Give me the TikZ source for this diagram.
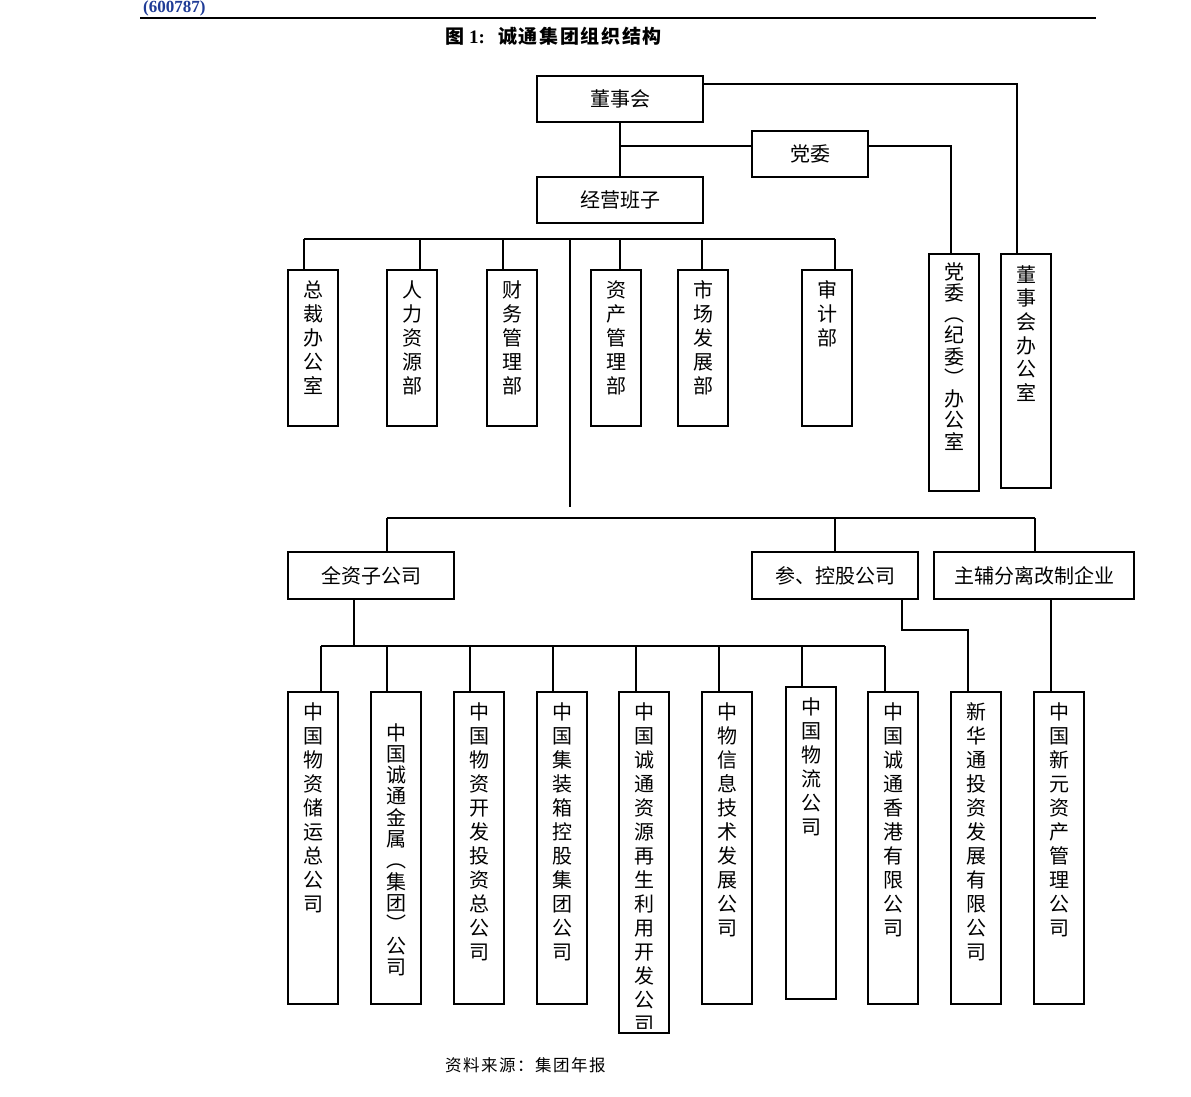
\documentclass[tikz,border=0pt]{standalone}
\usepackage{fontspec}
\setmainfont{Liberation Serif}
\newfontfamily\cjk{Noto Sans CJK SC}
\newfontfamily\cjkls[LetterSpace=9]{Noto Sans CJK SC}
\definecolor{hdrblue}{HTML}{1F3C96}
\newcommand\vtxt[5]{%
  \foreach \c [count=\i] in {#5} \node[ch] (#1-\i) at (#2,{#3+#4*(\i-1)}) {\c};}
\begin{document}
\begin{tikzpicture}[x=1pt,y=-1pt,
  box/.style={draw, line width=1.3pt, inner sep=0pt, font=\cjk\fontsize{20}{24}\selectfont},
  conn/.style={line width=1.3pt},
  ch/.style={inner sep=0pt, text height=16pt, text depth=2pt, font=\cjk\fontsize{20}{24}\selectfont}]
\useasboundingbox (0,0) rectangle (1191,1096);

% header
\node[anchor=base west, text=hdrblue, inner sep=0pt, font=\bfseries\fontsize{17}{18}\selectfont] (code) at (143,12.5) {(600787)};
\draw[line width=1.5pt] (140,18) -- (1096,18);
\node[anchor=west, inner sep=0pt, font=\fontsize{19}{20}\selectfont] (title) at (445,36)
  {{\cjk\bfseries 图}\hspace{5pt}{\bfseries 1:}\hspace{13pt}{\cjkls\bfseries 诚通集团组织结构}};

% top boxes
\node[box, minimum width=166pt, minimum height=46pt] (dsh) at (620,99) {董事会};
\node[box, minimum width=116pt, minimum height=46pt] (dw) at (810,154) {党委};
\node[box, minimum width=166pt, minimum height=46pt] (jy) at (620,200) {经营班子};

% department boxes
\foreach \n/\cx in {d1/313,d2/412,d3/512,d4/616,d5/703,d6/827}
  \node[box, minimum width=50pt, minimum height=156pt] (\n) at (\cx,348) {};
\node[box, minimum width=50pt, minimum height=237pt] (d7) at (954,372.5) {};
\node[box, minimum width=50pt, minimum height=234pt] (d8) at (1026,371) {};

\vtxt{t1}{313}{290}{24}{总,裁,办,公,室}
\vtxt{t2}{412}{290}{24}{人,力,资,源,部}
\vtxt{t3}{512}{290}{24}{财,务,管,理,部}
\vtxt{t4}{616}{290}{24}{资,产,管,理,部}
\vtxt{t5}{703}{290}{24}{市,场,发,展,部}
\vtxt{t6}{827}{290}{24}{审,计,部}
\vtxt{t7}{954}{272}{21.25}{党,委,︵,纪,委,︶,办,公,室}
\vtxt{t8}{1026}{275}{23.7}{董,事,会,办,公,室}

% second level boxes
\node[box, minimum width=166pt, minimum height=47pt] (qz) at (371,575.5) {全资子公司};
\node[box, minimum width=166pt, minimum height=47pt] (ck) at (835,575.5) {参、控股公司};
\node[box, minimum width=200pt, minimum height=47pt] (zf) at (1034,575.5) {主辅分离改制企业};

% bottom boxes
\foreach \n/\cx in {b1/313,b2/396,b3/479,b4/562,b6/727,b8/893,b9/976,b10/1059}
  \node[box, minimum width=50pt, minimum height=312pt] (\n) at (\cx,848) {};
\node[box, minimum width=50pt, minimum height=341pt] (b5) at (644,862.5) {};
\node[box, minimum width=50pt, minimum height=312pt] (b7) at (811,843) {};

\vtxt{s1}{313}{712}{24}{中,国,物,资,储,运,总,公,司}
\vtxt{s2}{396}{733}{21.3}{中,国,诚,通,金,属,︵,集,团,︶,公,司}
\vtxt{s3}{479}{712}{24}{中,国,物,资,开,发,投,资,总,公,司}
\vtxt{s4}{562}{712}{24}{中,国,集,装,箱,控,股,集,团,公,司}
\begin{scope}
  \clip (619,692) rectangle (669,1028);
  \vtxt{s5}{644}{712}{24}{中,国,诚,通,资,源,再,生,利,用,开,发,公,司}
\end{scope}
\vtxt{s6}{727}{712}{24}{中,物,信,息,技,术,发,展,公,司}
\vtxt{s7}{811}{707}{24}{中,国,物,流,公,司}
\vtxt{s8}{893}{712}{24}{中,国,诚,通,香,港,有,限,公,司}
\vtxt{s9}{976}{712}{24}{新,华,通,投,资,发,展,有,限,公,司}
\vtxt{s10}{1059}{712}{24}{中,国,新,元,资,产,管,理,公,司}

% connectors top
\draw[conn] (dsh.south) -- (jy.north);
\coordinate (j1) at (620,146);
\draw[conn] (j1) -- (j1 -| dw.west);
\coordinate (j2) at (951,146);
\draw[conn] (dw.east |- j2) -- (j2) -- (j2 |- d7.north);
\coordinate (k2) at (1017,84);
\draw[conn] (dsh.east |- k2) -- (k2) -- (k2 |- d8.north);

% department bar
\coordinate (p1) at (304,239);
\coordinate (p2) at (420,239);
\coordinate (p3) at (503,239);
\coordinate (p4) at (620,239);
\coordinate (p5) at (702,239);
\coordinate (p6) at (835,239);
\coordinate (pm) at (570,239);
\coordinate (pe) at (570,507);
\draw[conn] (p1) -- (p6);
\foreach \i in {1,...,6} \draw[conn] (p\i) -- (p\i |- d\i.north);
\draw[conn] (pm) -- (pe);

% second level bar
\coordinate (q1) at (387,518);
\coordinate (q2) at (835,518);
\coordinate (q3) at (1035,518);
\draw[conn] (q1) -- (q3);
\draw[conn] (q1) -- (q1 |- qz.north);
\draw[conn] (q2) -- (q2 |- ck.north);
\draw[conn] (q3) -- (q3 |- zf.north);

% ck -> b9
\coordinate (r1) at (902,630);
\coordinate (r2) at (968,630);
\draw[conn] (r1 |- ck.south) -- (r1) -- (r2) -- (r2 |- b9.north);
% zf -> b10
\coordinate (r3) at (1051,646);
\draw[conn] (r3 |- zf.south) -- (r3 |- b10.north);

% bottom bar
\coordinate (u0) at (354,646);
\draw[conn] (u0 |- qz.south) -- (u0);
\foreach \n/\x in {b1/321,b2/387,b3/470,b4/553,b5/636,b6/719,b7/802,b8/885}
  \draw[conn] (\x,646) -- (\x,646 |- \n.north);
\draw[conn] (321,646) -- (885,646);

% source
\node[anchor=west, inner sep=0pt, font=\cjkls\fontsize{16.5}{18}\selectfont] (src) at (445,1065) {资料来源：集团年报};
\end{tikzpicture}
\end{document}
